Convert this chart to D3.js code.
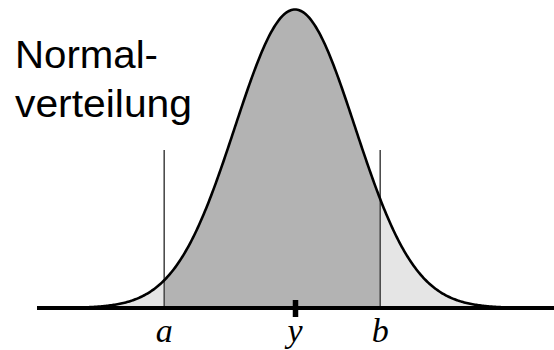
<!DOCTYPE html>
<html>
<head>
<meta charset="utf-8">
<script src="https://cdn.jsdelivr.net/npm/d3@7"></script>
<style>
  html, body { margin: 0; padding: 0; background: #fff; }
  svg { display: block; }
</style>
</head>
<body>
<svg id="chart" width="554" height="350"></svg>
<script>
// Distribution parameters (standardized units)
const mu = 0;
const sigma = 1;
const xDomain = [-4.3, 4.3];

// Interval bounds and their labels
const boundValues = [-2.18, 1.42];
const markerLabels = ["a", "y", "b"];
const markerValues = [boundValues[0], mu, boundValues[1]];

// Title lines
const titleLines = ["Normal-", "verteilung"];

const svg = d3.select("#chart");

const x = d3.scaleLinear().domain(xDomain).range([37, 553]);
const peak = 1 / (sigma * Math.sqrt(2 * Math.PI));
const y = d3.scaleLinear().domain([0, peak]).range([308, 9.5]);

// normal density
const density = v => Math.exp(-0.5 * ((v - mu) / sigma) ** 2) / (sigma * Math.sqrt(2 * Math.PI));

const samples = d3.range(xDomain[0], xDomain[1] + 1e-9, 0.02).map(v => [v, density(v)]);
const inner = d3.range(boundValues[0], boundValues[1] + 1e-9, 0.01).map(v => [v, density(v)]);
inner.push([boundValues[1], density(boundValues[1])]);

const area = d3.area()
  .x(d => x(d[0]))
  .y0(y(0))
  .y1(d => y(d[1]));

const line = d3.line()
  .x(d => x(d[0]))
  .y(d => y(d[1]));

// whole area under the curve (tails)
svg.append("path")
  .attr("d", area(samples))
  .attr("fill", "#e5e5e5");

// central interval
svg.append("path")
  .attr("d", area(inner))
  .attr("fill", "#b3b3b3");

// vertical bound lines
svg.selectAll("line.bound")
  .data(boundValues)
  .join("line")
  .attr("class", "bound")
  .attr("x1", d => x(d)).attr("x2", d => x(d))
  .attr("y1", 150).attr("y2", y(0))
  .attr("stroke", "#4d4d4d")
  .attr("stroke-width", 1.6);

// density curve
svg.append("path")
  .attr("d", line(samples))
  .attr("fill", "none")
  .attr("stroke", "#000")
  .attr("stroke-width", 2.6);

// horizontal axis with a single tick at the mean
const axis = d3.axisBottom(x)
  .tickValues([mu])
  .tickSize(9)
  .tickSizeOuter(0)
  .tickFormat("");

const axisG = svg.append("g")
  .attr("transform", `translate(0,${y(0)})`)
  .call(axis);
axisG.select(".domain")
  .attr("d", `M${x.range()[0]},0H554`)
  .attr("stroke", "#000")
  .attr("stroke-width", 4);
axisG.selectAll(".tick line")
  .attr("y1", -8)
  .attr("y2", 9)
  .attr("stroke", "#000")
  .attr("stroke-width", 5.5);

// marker labels
svg.selectAll("text.marker")
  .data(markerValues)
  .join("text")
  .attr("class", "marker")
  .attr("x", d => x(d))
  .attr("y", 342)
  .attr("text-anchor", "middle")
  .attr("font-family", "'Liberation Serif', 'Times New Roman', serif")
  .attr("font-style", "italic")
  .attr("font-size", 34)
  .attr("fill", "#000")
  .text((d, i) => markerLabels[i]);

// title
const titleWidths = [143, 177];
svg.selectAll("text.title")
  .data(titleLines)
  .join("text")
  .attr("class", "title")
  .attr("x", 15)
  .attr("y", (d, i) => 68 + i * 49)
  .attr("font-family", "'Liberation Sans', Arial, sans-serif")
  .attr("font-size", 38)
  .attr("textLength", (d, i) => titleWidths[i])
  .attr("lengthAdjust", "spacingAndGlyphs")
  .attr("fill", "#000")
  .text(d => d);
</script>
</body>
</html>
